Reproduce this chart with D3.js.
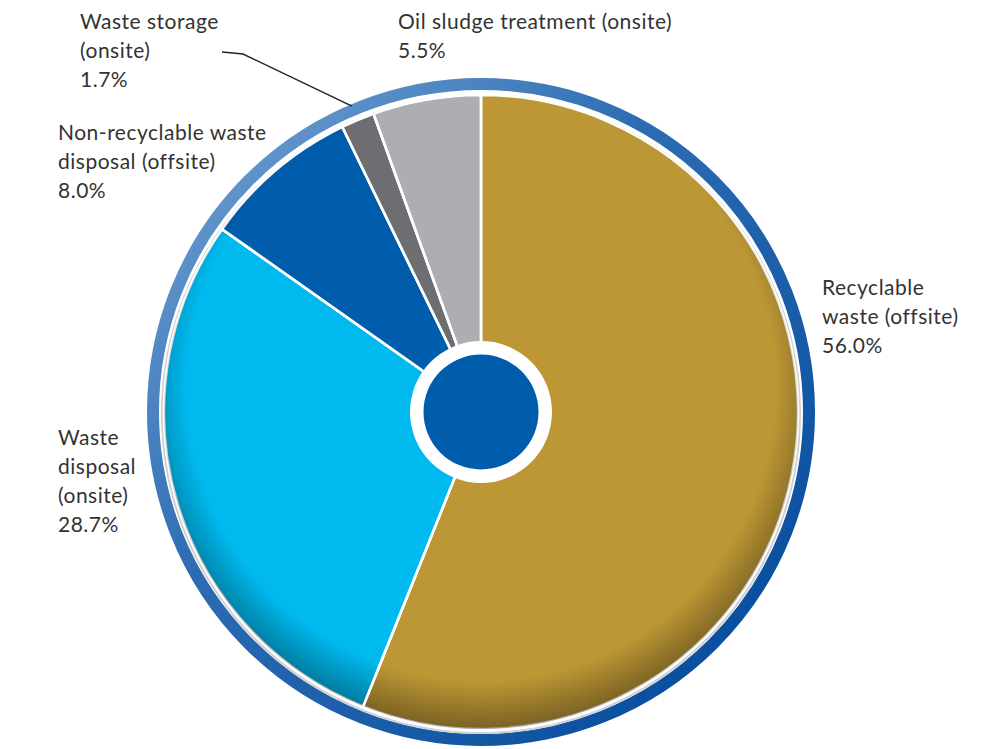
<!DOCTYPE html>
<html>
<head>
<meta charset="utf-8">
<script src="https://cdn.jsdelivr.net/npm/d3@7"></script>
<style>
  body { margin: 0; background: #fff; }
  svg { display: block; }
  text { font-family: Lato, "Open Sans", sans-serif; fill: #333; }
</style>
</head>
<body>
<svg id="chart" width="1001" height="749"></svg>
<script>
// data
var categories = ['Recyclable waste (offsite)', 'Waste disposal (onsite)', 'Non-recyclable waste disposal (offsite)', 'Waste storage (onsite)', 'Oil sludge treatment (onsite)'];
var shares = [56.0, 28.7, 8.0, 1.7, 5.5];
var labelLines = [
  ['Recyclable', 'waste (offsite)', '56.0%'],
  ['Waste', 'disposal', '(onsite)', '28.7%'],
  ['Non-recyclable waste', 'disposal (offsite)', '8.0%'],
  ['Waste storage', '(onsite)', '1.7%'],
  ['Oil sludge treatment (onsite)', '5.5%']
];
var colors = ['#bd9735', '#00b9ee', '#005dab', '#6d6e71', '#adaeb2'];

// layout
var cx = 481, cy = 412;
var rPie = 317, rRingIn = 322, rRingOut = 334;
var rHole = 71, rCore = 57.5;
var labelPos = [[822, 288], [58, 438], [58, 133], [80, 22], [398, 22]];
var lineH = 29;

var svg = d3.select('#chart');
var defs = svg.append('defs');

var ringGrad = defs.append('linearGradient').attr('id', 'ringGrad')
  .attr('x1', '0%').attr('y1', '0%').attr('x2', '100%').attr('y2', '100%');
ringGrad.append('stop').attr('offset', '0%').attr('stop-color', '#7aa9d6');
ringGrad.append('stop').attr('offset', '40%').attr('stop-color', '#2d6cb3');
ringGrad.append('stop').attr('offset', '100%').attr('stop-color', '#00479a');

var edgeShade = defs.append('radialGradient').attr('id', 'edgeShade')
  .attr('cx', '50%').attr('cy', '46%').attr('r', '54%');
edgeShade.append('stop').attr('offset', '0.86').attr('stop-color', '#000').attr('stop-opacity', 0);
edgeShade.append('stop').attr('offset', '0.97').attr('stop-color', '#000').attr('stop-opacity', 0.28);
edgeShade.append('stop').attr('offset', '1').attr('stop-color', '#000').attr('stop-opacity', 0.35);

var g = svg.append('g').attr('transform', 'translate(' + cx + ',' + cy + ')');

// outer ring
g.append('circle').attr('r', (rRingIn + rRingOut) / 2)
  .style('fill', 'none').style('stroke', 'url(#ringGrad)').style('stroke-width', rRingOut - rRingIn);
// faint shadow in the white gap
g.append('circle').attr('r', rPie + 2).attr('cy', 2)
  .style('fill', 'none').style('stroke', '#d0d0d0').style('stroke-width', 2);

var pie = d3.pie().sort(null).value(function(d){ return d; });
var arc = d3.arc().innerRadius(0).outerRadius(rPie);
var arcs = pie(shares);

g.selectAll('path.slice').data(arcs).enter().append('path')
  .attr('class', 'slice')
  .attr('d', arc)
  .style('fill', function(d, i){ return colors[i]; })
  .style('stroke', '#fff').style('stroke-width', 2.5);

// darker rim inside the pie
g.append('circle').attr('r', rPie).style('fill', 'url(#edgeShade)').style('pointer-events', 'none');
// redraw white separators over the shading
g.selectAll('line.sep').data(arcs).enter().append('line')
  .attr('class', 'sep')
  .attr('x1', 0).attr('y1', 0)
  .attr('x2', function(d){ return rPie * Math.sin(d.startAngle); })
  .attr('y2', function(d){ return -rPie * Math.cos(d.startAngle); })
  .style('stroke', '#fff').style('stroke-width', 2.5);

// centre
g.append('circle').attr('r', rHole).style('fill', '#fff');
g.append('circle').attr('r', rCore).style('fill', '#005dab');

// labels
labelLines.forEach(function(lines, i){
  var t = svg.append('text').attr('x', labelPos[i][0]).attr('y', labelPos[i][1])
    .style('font-size', '21px').style('letter-spacing', '0.5px');
  lines.forEach(function(s, j){
    t.append('tspan').attr('x', labelPos[i][0]).attr('dy', j == 0 ? '0.35em' : lineH).text(s);
  });
});

// leader for the small slice
var small = arcs[3];
var mid = (small.startAngle + small.endAngle) / 2;
var tip = [cx + (rRingOut - 2) * Math.sin(mid), cy - (rRingOut - 2) * Math.cos(mid)];
svg.append('path')
  .attr('d', d3.line()([[222, 52], [243, 54], tip]))
  .style('fill', 'none').style('stroke', '#222').style('stroke-width', 1.5);
</script>
</body>
</html>
